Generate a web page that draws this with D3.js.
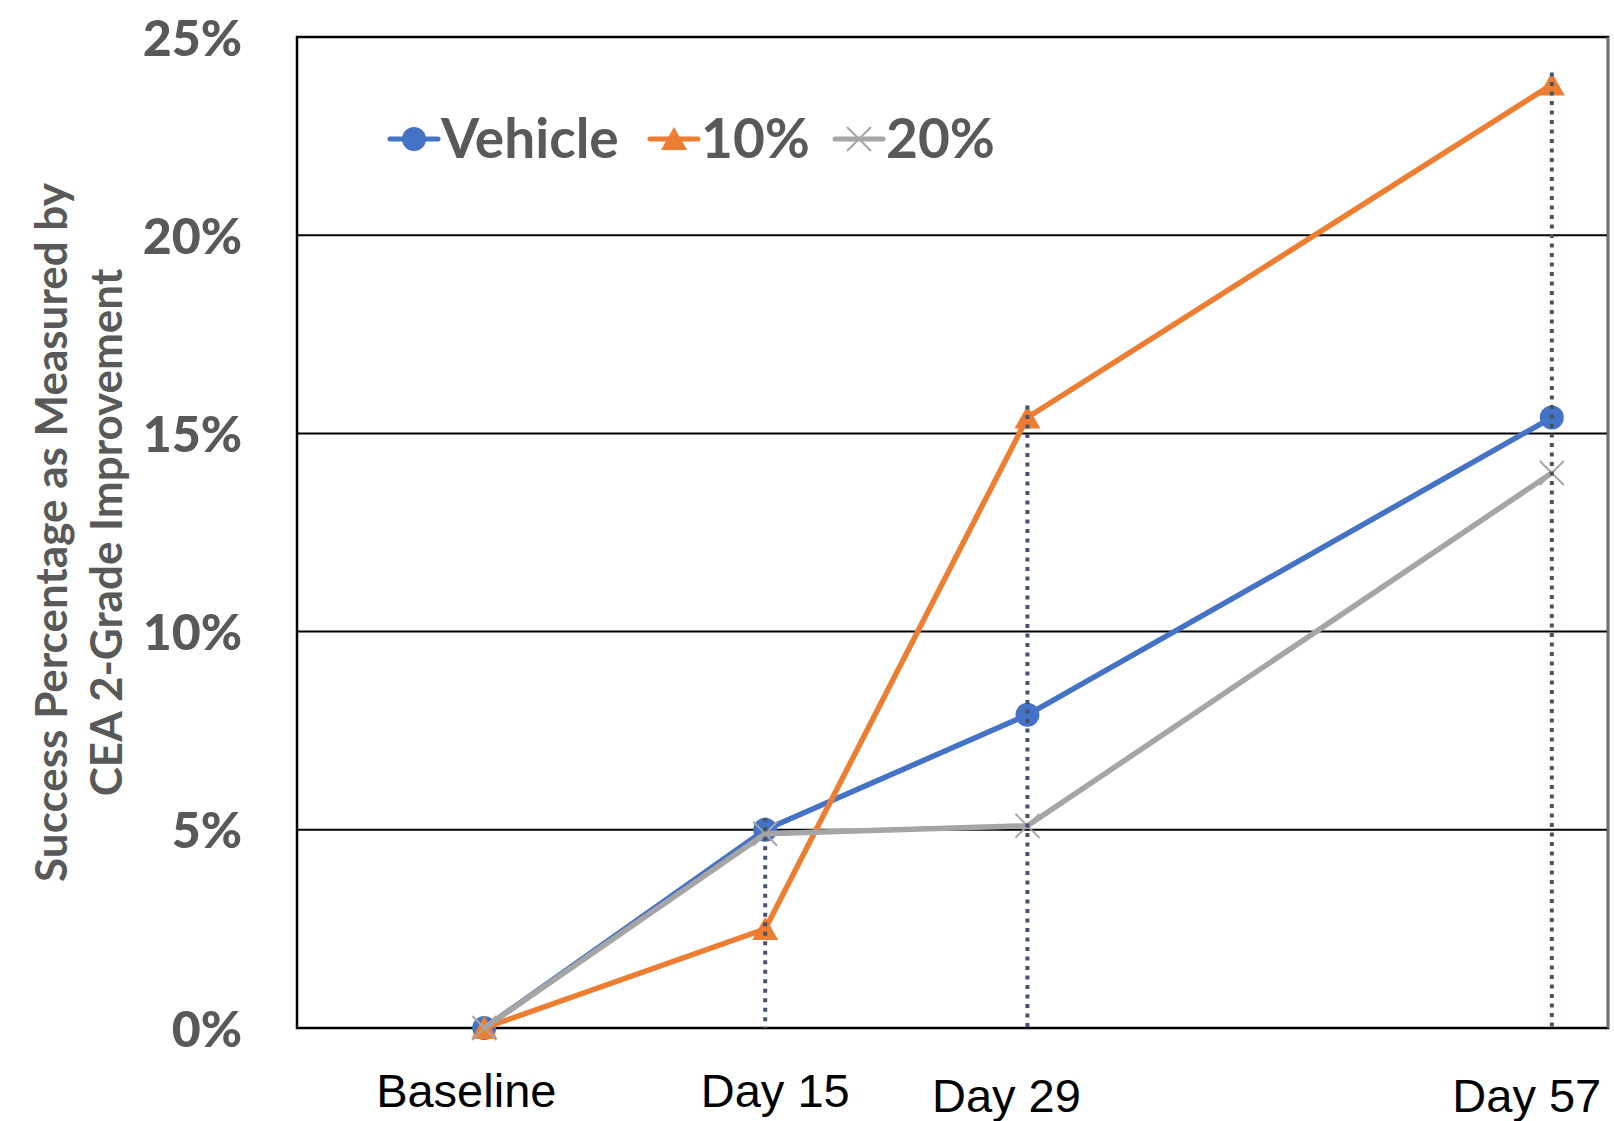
<!DOCTYPE html>
<html>
<head>
<meta charset="utf-8">
<script src="https://cdn.jsdelivr.net/npm/d3@7"></script>
<style>
  body { margin: 0; background: #fff; }
  svg { display: block; }
</style>
</head>
<body>
<svg id="chart" width="1614" height="1121"></svg>
<script>
// data
var days = [0, 15, 29, 57];
var dayLabels = ["Baseline", "Day 15", "Day 29", "Day 57"];
var vehicle = [0, 5.0, 7.9, 15.4];
var pct10 = [0, 2.5, 15.4, 23.8];
var pct20 = [0, 4.9, 5.1, 14.0];
var yTicks = [0, 5, 10, 15, 20, 25];
var seriesNames = ["Vehicle", "10%", "20%"];

// label nudges (the labels in the original are not centred on the points)
var labelDx = [-18, 10, -21, -25];
var labelY = [1107, 1107, 1112, 1112];

var colors = ["#4472C4", "#ED7D31", "#A5A5A5"];
var shapes = ["circle", "triangle", "cross"];
var allSeries = [vehicle, pct10, pct20];

var svg = d3.select("#chart");
var plotLeft = 297, plotRight = 1608, plotTop = 37, plotBottom = 1028;

var x = d3.scaleLinear().domain([-10, 60]).range([plotLeft, plotRight]);
var y = d3.scaleLinear().domain([0, 25]).range([plotBottom, plotTop]);

// gridlines
svg.append("g")
	.selectAll("line")
	.data(yTicks)
	.enter().append("line")
	.attr("x1", plotLeft).attr("x2", plotRight)
	.attr("y1", function(d) { return y(d); })
	.attr("y2", function(d) { return y(d); })
	.attr("stroke", "#000")
	.attr("stroke-width", 2);

// plot frame
svg.append("rect")
	.attr("x", plotLeft).attr("y", plotTop)
	.attr("width", plotRight - plotLeft).attr("height", plotBottom - plotTop)
	.attr("fill", "none")
	.attr("stroke", "#000")
	.attr("stroke-width", 2.5);
svg.append("line")
	.attr("x1", plotRight).attr("x2", plotRight)
	.attr("y1", plotTop).attr("y2", plotBottom)
	.attr("stroke", "#6f6f6f")
	.attr("stroke-width", 2.5);

// y axis tick labels
var yAxis = d3.axisLeft(y).tickValues(yTicks).tickSize(0).tickPadding(55)
	.tickFormat(function(d) { return d + "%"; });
var yg = svg.append("g").attr("transform", "translate(" + plotLeft + ",0)").call(yAxis);
yg.select(".domain").remove();
yg.selectAll("text")
	.attr("font-family", "Lato, 'Open Sans', sans-serif")
	.attr("font-weight", "900")
	.attr("font-size", 50)
	.attr("fill", "#595959")
	.attr("dy", "0.36em");

// x labels
svg.append("g")
	.selectAll("text")
	.data(days)
	.enter().append("text")
	.attr("x", function(d, i) { return x(d) + labelDx[i]; })
	.attr("y", function(d, i) { return labelY[i]; })
	.attr("text-anchor", "middle")
	.attr("font-family", "'Liberation Sans', Arial, sans-serif")
	.attr("font-size", 47)
	.attr("fill", "#000")
	.text(function(d, i) { return dayLabels[i]; });

// y axis title
var title = svg.append("text")
	.attr("transform", "translate(0," + ((plotTop + plotBottom) / 2) + ") rotate(-90)")
	.attr("text-anchor", "middle")
	.attr("font-family", "Lato, 'Open Sans', sans-serif")
	.attr("font-weight", "bold")
	.attr("font-size", 44)
	.attr("fill", "#595959");
title.append("tspan").attr("x", 0).attr("y", 67).text("Success Percentage as Measured by");
title.append("tspan").attr("x", 0).attr("y", 122).text("CEA 2-Grade Improvement");

function drawMarker(g, shape, color, cx, cy) {
	if (shape == "circle") {
		g.append("circle").attr("cx", cx).attr("cy", cy).attr("r", 12).attr("fill", color);
	} else if (shape == "triangle") {
		g.append("path")
			.attr("d", "M" + cx + "," + (cy - 12) + "L" + (cx + 13) + "," + (cy + 11) + "L" + (cx - 13) + "," + (cy + 11) + "Z")
			.attr("fill", color);
	} else {
		g.append("path")
			.attr("d", "M" + (cx - 12) + "," + (cy - 12) + "L" + (cx + 12) + "," + (cy + 12) +
				"M" + (cx + 12) + "," + (cy - 12) + "L" + (cx - 12) + "," + (cy + 12))
			.attr("stroke", color).attr("stroke-width", 2).attr("fill", "none");
	}
}

var line = d3.line()
	.x(function(d) { return x(d[0]); })
	.y(function(d) { return y(d[1]); });

// series
allSeries.forEach(function(values, s) {
	var pts = days.map(function(d, i) { return [d, values[i]]; });
	var g = svg.append("g");
	g.append("path")
		.datum(pts)
		.attr("fill", "none")
		.attr("stroke", colors[s])
		.attr("stroke-width", 5.5)
		.attr("stroke-linejoin", "round")
		.attr("d", line);
	pts.forEach(function(p) {
		drawMarker(g, shapes[s], colors[s], x(p[0]), y(p[1]));
	});
});

// drop lines from the highest point of each day
svg.append("g")
	.selectAll("line")
	.data(days.slice(1))
	.enter().append("line")
	.attr("x1", function(d) { return x(d); })
	.attr("x2", function(d) { return x(d); })
	.attr("y1", function(d) {
		var i = days.indexOf(d);
		return y(d3.max(allSeries, function(v) { return v[i]; })) - 12;
	})
	.attr("y2", plotBottom)
	.attr("stroke", "#44546A")
	.attr("stroke-width", 4)
	.attr("stroke-dasharray", "4,5.5");

// legend
var legendX = [390, 650, 835];
var legend = svg.append("g");
seriesNames.forEach(function(name, s) {
	var lx = legendX[s], ly = 139;
	legend.append("line")
		.attr("x1", lx).attr("x2", lx + 48)
		.attr("y1", ly).attr("y2", ly)
		.attr("stroke", colors[s]).attr("stroke-width", 5).attr("stroke-linecap", "round");
	drawMarker(legend, shapes[s], colors[s], lx + 24, ly);
	legend.append("text")
		.attr("x", lx + 51).attr("y", ly + 19)
		.attr("font-family", "Lato, 'Open Sans', sans-serif")
		.attr("font-weight", "bold")
		.attr("font-size", 55)
		.attr("fill", "#595959")
		.text(name);
});
</script>
</body>
</html>
